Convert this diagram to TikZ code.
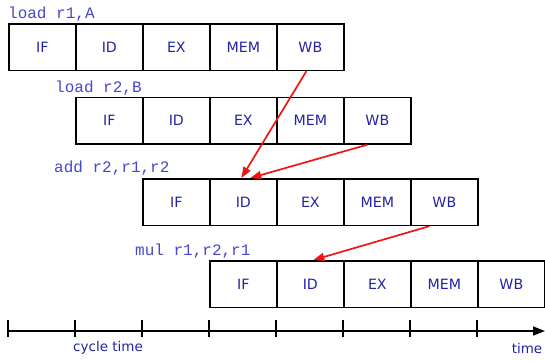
\documentclass[tikz,border=0pt]{standalone}
\usepackage{fontspec}
\setmainfont{DejaVu Sans}
\setmonofont{Liberation Mono}
\usetikzlibrary{arrows.meta,calc}
\definecolor{stagetext}{RGB}{35,35,165}
\definecolor{instrtext}{RGB}{70,70,205}
\definecolor{hazard}{RGB}{240,20,20}
\begin{document}
\begin{tikzpicture}[x=1pt,y=-1pt,
  stagebox/.style={draw=black,line width=1.7pt,minimum width=67pt,minimum height=46.5pt,
    inner sep=0pt,anchor=north west,text=stagetext,font=\fontsize{14.2}{16}\selectfont},
  instr/.style={anchor=base west,inner sep=0pt,text=instrtext,font=\ttfamily\fontsize{16}{17}\selectfont},
  fwd/.style={draw=hazard,line width=1.7pt,-{Triangle[length=11pt,width=8pt]}},
  axislabel/.style={inner sep=0pt,text=stagetext,font=\fontsize{13.5}{15}\selectfont}]
\useasboundingbox (0,0) rectangle (545,362);

% instruction labels
\node[instr] (l1) at (8,18) {load r1,A};
\node[instr] (l2) at (55,92) {load r2,B};
\node[instr] (l3) at (54,172.5) {add r2,r1,r2};
\node[instr] (l4) at (135,255) {mul r1,r2,r1};

% pipeline rows: row number, start x, top y
\foreach \r/\x/\y in {1/8/23,2/75/96.5,3/142/178,4/209/260}{
  \node[stagebox] (r\r if)  at (\x,\y) {IF};
  \node[stagebox] (r\r id)  at (\x+67,\y) {ID};
  \node[stagebox] (r\r ex)  at (\x+134,\y) {EX};
  \node[stagebox] (r\r mem) at (\x+201,\y) {MEM};
  \node[stagebox] (r\r wb)  at (\x+268,\y) {WB};
}

% forwarding arrows
\draw[fwd] ([xshift=-4pt]r1wb.south) -- ([xshift=-2pt]r3id.north);
\draw[fwd] ([xshift=-10pt]r2wb.south) -- ([xshift=7pt]r3id.north);
\draw[fwd] ([xshift=-15pt]r3wb.south) -- ([xshift=3pt]r4id.north);

% time axis
\coordinate (t0) at (8,331);
\coordinate (tend) at (545,331);
\draw[line width=1.6pt,-{Triangle[length=12pt,width=9pt]}] (t0) -- (tend);
\foreach \k in {0,...,7}{
  \draw[line width=1.6pt] (8+67*\k,320) -- (8+67*\k,337);
}
\node[axislabel] (ct) at (108,348) {cycle time};
\node[axislabel] (tm) at (527,348) {time};
\end{tikzpicture}
\end{document}
